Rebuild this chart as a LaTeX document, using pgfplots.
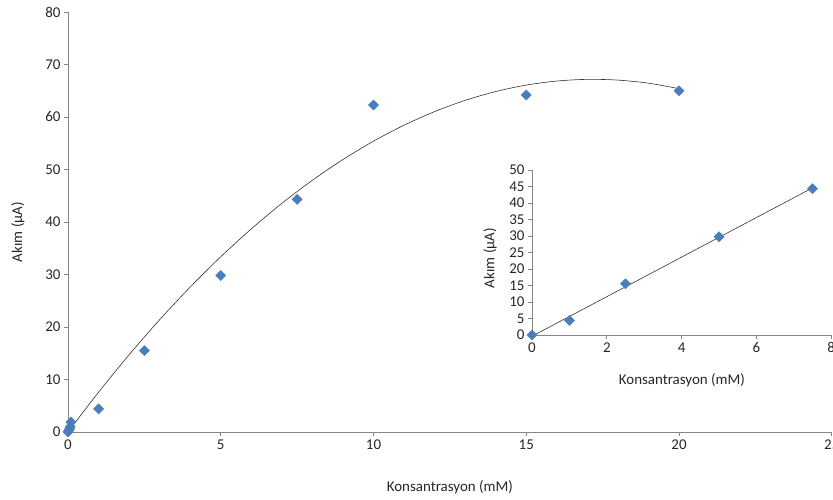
\documentclass[border=0pt]{standalone}
\usepackage{fontspec}
\setmainfont{Carlito}
\usepackage{pgfplots}
\pgfplotsset{compat=1.18}
\definecolor{markblue}{RGB}{74,126,187}
\definecolor{axgray}{RGB}{134,134,134}
\pgfplotsset{
  chartstyle/.style={
    axis lines*=left,
    axis line style={draw=axgray, line width=0.8bp},
    tick style={draw=axgray, line width=0.8bp},
    tick align=outside,
    major tick length=4bp,
    tick label style={font=\fontsize{15}{17}\selectfont, text=black!85},
    label style={font=\fontsize{15}{17}\selectfont, text=black!85},
    /pgf/number format/assume math mode=true,
    clip=false,
  },
  diamonds/.style={only marks, mark=square*, mark size=3.6bp,
    mark options={rotate=45, fill=markblue, draw=markblue}},
  trend/.style={black!80, line width=0.6bp},
}
\begin{document}
\begin{tikzpicture}
\useasboundingbox (-68bp,-68bp) rectangle (765bp,432bp);
% full concentration range with second-order trend line
\begin{axis}[chartstyle,
  x=30.55bp, y=5.25bp, anchor=origin, at={(0,0)},
  xmin=0, xmax=25, ymin=0, ymax=80,
  xtick={0,5,...,25}, ytick={0,10,...,80},
  xlabel={Konsantrasyon (mM)}, ylabel={Akım (µA)},
  xlabel style={at={(axis description cs:0.5,-0.131)}, anchor=center},
  ylabel style={at={(axis description cs:-0.0655,0.476)}, anchor=center},
]
\addplot[diamonds] coordinates {
  (0,0) (0.025,0.3) (0.05,0.6) (0.075,1.0) (0.1,1.9)
  (1,4.4) (2.5,15.5) (5,29.8) (7.5,44.3) (10,62.3) (15,64.2) (20,65.0)
};
\addplot[trend, smooth] coordinates {
  (0,0) (1,7.58) (2,14.71) (3,21.39) (4,27.61) (5,33.38) (6,38.69)
  (7,43.55) (8,47.95) (9,51.90) (10,55.40) (11,58.44) (12,61.03)
  (13,63.17) (14,64.85) (15,66.08) (16,66.85) (17,67.17) (18,67.03)
  (19,66.44) (20,65.40)
};
\end{axis}
% linear range inset
\begin{axis}[chartstyle,
  x=37.4bp, y=3.3bp, anchor=origin, at={(464bp,97bp)},
  xmin=0, xmax=8, ymin=0, ymax=50,
  xtick={0,2,...,8}, ytick={0,5,...,50},
  xlabel={Konsantrasyon (mM)}, ylabel={Akım (µA)},
  xlabel style={at={(axis description cs:0.501,-0.273)}, anchor=center},
  ylabel style={at={(axis description cs:-0.140,0.467)}, anchor=center},
]
\addplot[diamonds] coordinates {
  (0,0) (1,4.4) (2.5,15.5) (5,29.8) (7.5,44.3)
};
\addplot[trend] coordinates {(0.063,0) (7.5,44.58)};
\end{axis}
\end{tikzpicture}
\end{document}
